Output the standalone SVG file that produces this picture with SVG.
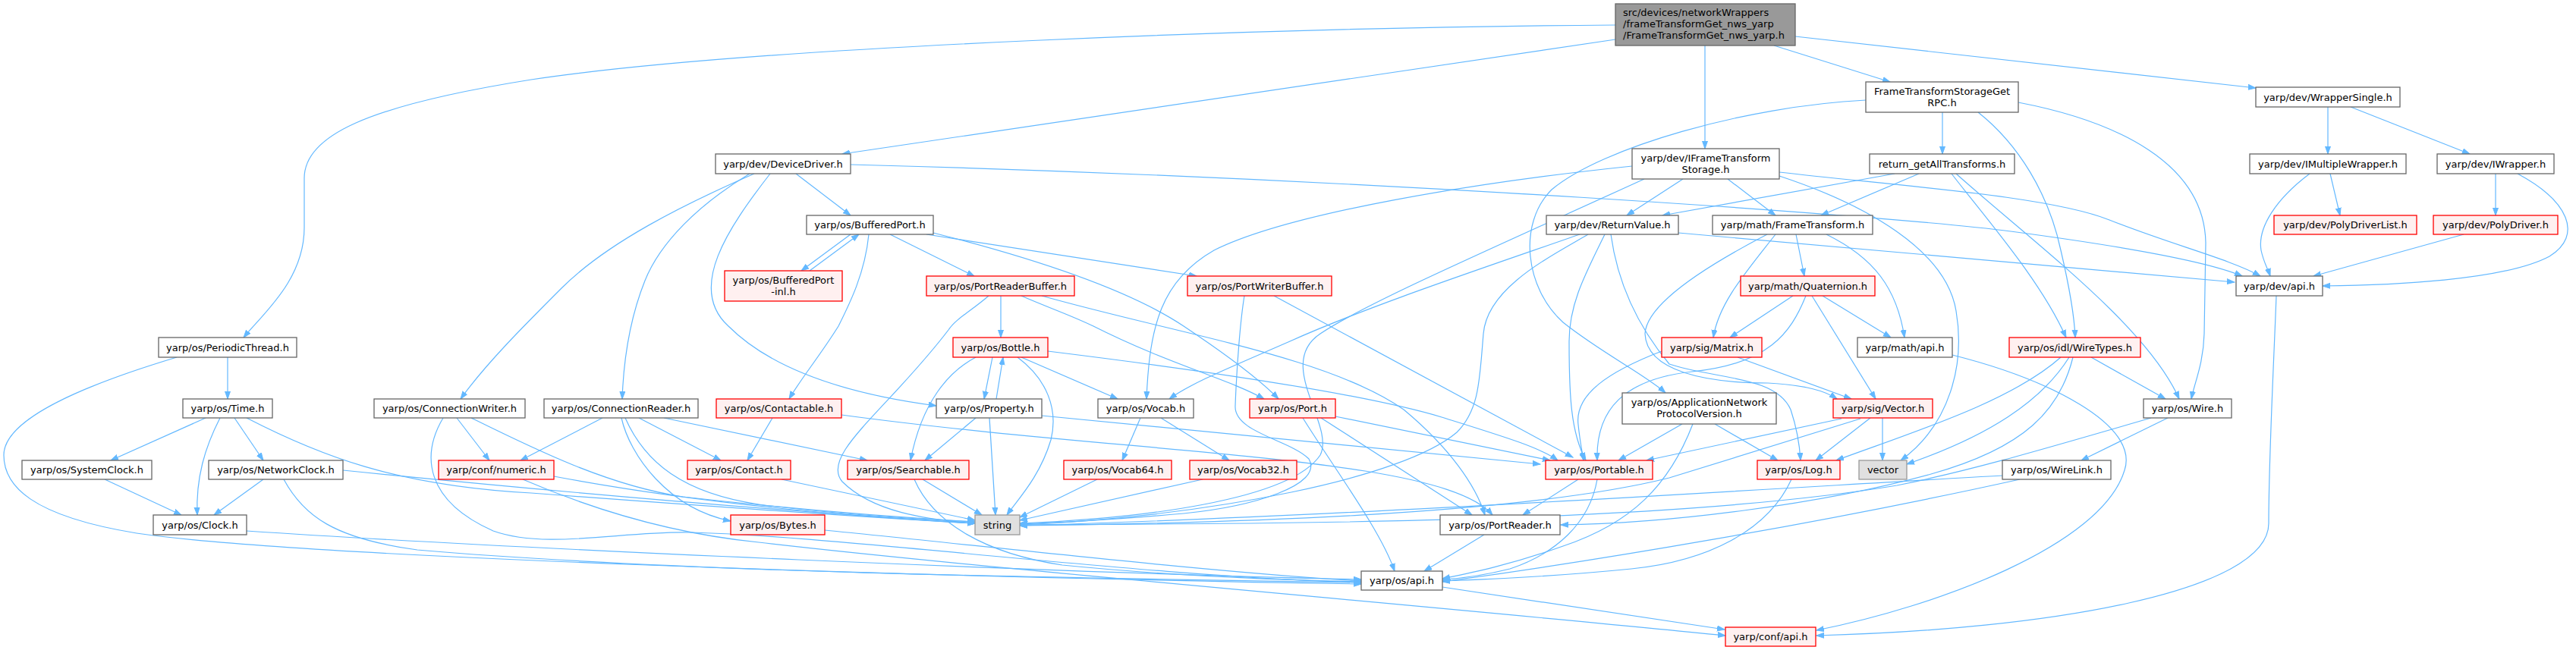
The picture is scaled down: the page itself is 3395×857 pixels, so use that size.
<svg xmlns="http://www.w3.org/2000/svg" width="3395" height="857" viewBox="0 0 3395 857">
<style>
text{font-family:"DejaVu Sans","Liberation Sans",sans-serif;font-size:13px;fill:#000;text-anchor:middle}
.n rect{fill:#fff;stroke:#666;stroke-width:1.3}
.r rect{fill:#fff0f0;stroke:#ff0000;stroke-width:1.3}
.x rect{fill:#e0e0e0;stroke:#999;stroke-width:1.3}
.root rect{fill:#999;stroke:#666;stroke-width:1.3}
.root text{text-anchor:start}
#edges path{fill:none;stroke:#63b8ff;stroke-width:1.2;marker-end:url(#a)}
</style>
<defs>
<marker id="a" markerWidth="11" markerHeight="9" refX="10" refY="4" orient="auto" markerUnits="userSpaceOnUse">
<path d="M0,0.5 L10,4 L0,7.5 z" fill="#63b8ff" stroke="#63b8ff" stroke-width="1"/>
</marker>
</defs>
<rect width="3395" height="857" fill="#fff"/>
<g id="edges">
<path d="M2129,33 C1700,36 1000,60 700,105 C480,140 401,180 401,235 L401,300 C401,370 345,415 321,445"/>
<path d="M2129,52 L1110,203"/>
<path d="M2247,60 L2247,196"/>
<path d="M2338,60 L2491,108"/>
<path d="M2366,48 L2973,116"/>
<path d="M2560,148 L2560,203"/>
<path d="M2459,132 C2300,140 2110,195 2045,250 C2000,295 2010,380 2060,425 C2110,465 2170,495 2195,518"/>
<path d="M2607,148 C2660,190 2700,255 2716,330 C2730,390 2734,420 2735,445"/>
<path d="M2660,135 C2790,160 2905,215 2907,320 L2905,440 C2904,480 2892,505 2888,526"/>
<path d="M2497,229 L2191,284"/>
<path d="M2529,229 L2400,284"/>
<path d="M2572,229 C2615,285 2690,370 2723,445"/>
<path d="M2578,229 C2680,320 2830,430 2872,526"/>
<path d="M3068,141 L3068,203"/>
<path d="M3098,141 L3255,203"/>
<path d="M3071,229 L3084,284"/>
<path d="M3044,229 C3000,262 2975,300 2980,330 C2983,345 2989,355 2992,364"/>
<path d="M3289,229 L3289,284"/>
<path d="M3318,229 C3385,265 3405,310 3360,338 C3300,370 3150,376 3061,377"/>
<path d="M3247,309 L3049,364"/>
<path d="M2345,227 C2500,245 2700,258 2780,290 C2860,322 2940,342 2979,364"/>
<path d="M2345,232 C2460,270 2565,330 2578,410 C2590,480 2570,560 2505,607"/>
<path d="M2218,236 L2144,284"/>
<path d="M2277,236 L2340,284"/>
<path d="M2151,219 C1950,240 1700,280 1600,330 C1530,370 1515,430 1511,526"/>
<path d="M2167,236 C1950,335 1800,400 1740,440 C1680,480 1760,560 1740,600 C1700,660 1500,684 1344,690"/>
<path d="M1121,217 C1800,235 2500,285 2650,305 C2800,325 2910,345 2955,364"/>
<path d="M1049,229 L1121,284"/>
<path d="M1015,229 C960,300 905,380 960,430 C1020,490 1120,520 1234,535"/>
<path d="M994,229 C900,270 800,320 740,380 C690,430 640,480 607,526"/>
<path d="M988,229 C920,270 870,320 850,370 C830,420 822,470 820,526"/>
<path d="M1121,309 L1056,357"/>
<path d="M1067,357 L1132,309"/>
<path d="M1145,309 C1140,360 1120,400 1105,430 C1080,470 1055,500 1040,526"/>
<path d="M1173,309 L1284,364"/>
<path d="M1221,309 L1577,364"/>
<path d="M1230,307 C1400,350 1500,390 1560,430 C1620,470 1660,500 1685,526"/>
<path d="M1319,390 L1319,445"/>
<path d="M1303,390 C1280,410 1260,420 1250,435 C1170,540 1080,600 1110,635 C1150,675 1220,685 1285,690"/>
<path d="M1346,390 C1380,405 1410,415 1441,430 C1540,480 1620,500 1666,526"/>
<path d="M1373,390 C1550,440 1750,470 1850,540 C1910,590 1945,640 1957,679"/>
<path d="M1679,390 L2073,603"/>
<path d="M1640,390 C1635,420 1630,480 1628,535 C1626,570 1700,580 1725,605 C1745,640 1650,668 1560,677 C1470,685 1400,689 1344,691"/>
<path d="M2212,307 L2945,372"/>
<path d="M2082,309 C1950,355 1800,405 1700,450 C1620,485 1570,505 1541,526"/>
<path d="M2093,309 C2040,340 1960,380 1955,440 C1950,500 1950,540 1920,570 C1850,630 1600,680 1344,692"/>
<path d="M2115,309 C2090,360 2068,400 2068,450 C2068,520 2070,570 2090,607"/>
<path d="M2123,309 C2130,360 2150,420 2200,480 C2260,500 2340,495 2360,540 C2370,570 2372,590 2373,607"/>
<path d="M2367,309 L2378,364"/>
<path d="M2340,309 C2300,360 2265,400 2258,445"/>
<path d="M2407,309 C2470,340 2500,380 2510,445"/>
<path d="M2329,309 C2250,350 2170,400 2168,440 C2170,490 2250,505 2330,505 C2380,508 2405,515 2421,526"/>
<path d="M2363,390 L2280,445"/>
<path d="M2388,390 L2472,526"/>
<path d="M2402,390 L2492,445"/>
<path d="M2380,390 C2360,440 2330,480 2230,490 C2140,500 2103,540 2105,607"/>
<path d="M2290,471 L2440,526"/>
<path d="M2190,463 C2120,490 2075,520 2080,560 C2082,580 2085,595 2087,607"/>
<path d="M2481,551 L2481,607"/>
<path d="M2465,551 L2393,607"/>
<path d="M2427,552 L2170,607"/>
<path d="M2452,552 L2200,630 C2000,680 1600,690 1344,693"/>
<path d="M2217,559 L2133,607"/>
<path d="M2260,559 L2343,607"/>
<path d="M2231,559 C2200,640 2150,690 2060,720 C1990,745 1940,755 1901,763"/>
<path d="M2361,632 C2330,700 2250,740 2150,750 C2050,760 1960,764 1901,766"/>
<path d="M2080,632 L2007,679"/>
<path d="M2105,632 C2095,690 2050,730 1990,750 C1950,760 1920,763 1901,764"/>
<path d="M1956,705 L1877,753"/>
<path d="M1901,774 L2273,830"/>
<path d="M1760,549 L2043,607"/>
<path d="M1741,551 L1940,679"/>
<path d="M1717,551 C1760,620 1820,700 1838,753"/>
<path d="M1308,471 L1297,526"/>
<path d="M1313,526 L1322,471"/>
<path d="M1286,471 C1250,490 1215,530 1200,607"/>
<path d="M1346,471 L1473,526"/>
<path d="M1341,471 C1380,500 1395,540 1385,580 C1370,630 1340,660 1327,679"/>
<path d="M1381,463 C1600,490 1800,520 1900,550 C1980,575 2030,590 2053,607"/>
<path d="M1286,551 L1219,607"/>
<path d="M1304,551 L1312,679"/>
<path d="M1373,548 L2030,612"/>
<path d="M1018,551 L985,607"/>
<path d="M1109,547 C1500,600 1900,600 1967,679"/>
<path d="M1503,551 L1479,607"/>
<path d="M1530,551 L1620,607"/>
<path d="M1446,632 L1344,682"/>
<path d="M1585,632 L1344,686"/>
<path d="M1216,632 L1294,679"/>
<path d="M1205,632 C1230,690 1300,730 1400,745 C1550,760 1700,765 1794,767"/>
<path d="M1030,632 L1285,686"/>
<path d="M794,551 L686,607"/>
<path d="M842,551 L950,607"/>
<path d="M875,551 L1143,607"/>
<path d="M819,551 C830,600 880,670 963,687"/>
<path d="M824,551 C850,610 900,650 1000,665 C1100,678 1200,684 1285,688"/>
<path d="M602,551 L645,607"/>
<path d="M621,551 C700,590 800,640 900,655 C1050,672 1180,682 1285,688"/>
<path d="M584,551 C555,600 560,660 650,700 C720,725 820,700 908,702 C1100,706 1500,760 1794,768"/>
<path d="M689,632 C800,680 900,705 1000,715 C1300,750 1900,800 2274,838"/>
<path d="M730,628 C900,660 1100,680 1285,690"/>
<path d="M1087,699 C1300,720 1600,755 1794,766"/>
<path d="M300,471 L300,526"/>
<path d="M233,471 C120,505 5,550 5,600 C5,640 40,680 180,703 C400,735 1200,760 1794,770"/>
<path d="M271,551 L146,607"/>
<path d="M309,551 L347,607"/>
<path d="M290,551 C270,590 258,630 260,679"/>
<path d="M325,551 C420,600 520,640 700,650 C900,665 1100,680 1285,690"/>
<path d="M138,632 L239,679"/>
<path d="M347,632 L282,679"/>
<path d="M374,632 C400,680 440,710 550,725 C900,755 1400,762 1794,768"/>
<path d="M452,620 C700,645 1000,672 1285,690"/>
<path d="M325,700 C700,725 1400,755 1794,764"/>
<path d="M2756,471 L2854,526"/>
<path d="M2716,471 C2650,530 2520,570 2420,607"/>
<path d="M2727,471 C2690,530 2620,575 2513,612"/>
<path d="M2732,471 C2715,540 2670,590 2545,625 C2400,665 2200,690 2057,692"/>
<path d="M2857,551 L2743,607"/>
<path d="M2835,551 C2700,590 2600,620 2500,640 C2200,690 1700,690 1344,692"/>
<path d="M2640,627 C2400,640 1800,680 1344,693"/>
<path d="M2662,632 C2400,690 2100,740 1901,767"/>
<path d="M3000,390 C2998,450 2990,600 2990,690 C2990,780 2700,830 2394,838"/>
<path d="M2573,468 C2700,500 2820,560 2800,620 C2770,720 2550,800 2394,831"/>
</g>
<g id="n_root" class="root"><rect x="2129" y="5" width="237" height="55"/><text x="2139" y="21">src/devices/networkWrappers</text><text x="2139" y="36">/frameTransformGet_nws_yarp</text><text x="2139" y="51">/FrameTransformGet_nws_yarp.h</text></g>
<g id="n_rpc" class="n"><rect x="2459" y="108" width="201" height="40"/><text x="2559.5" y="125">FrameTransformStorageGet</text><text x="2559.5" y="140">RPC.h</text></g>
<g id="n_ws" class="n"><rect x="2973" y="115" width="190" height="26"/><text x="3068" y="132.5">yarp/dev/WrapperSingle.h</text></g>
<g id="n_dd" class="n"><rect x="943" y="203" width="178" height="26"/><text x="1032" y="220.5">yarp/dev/DeviceDriver.h</text></g>
<g id="n_ifts" class="n"><rect x="2151" y="196" width="194" height="40"/><text x="2248" y="213">yarp/dev/IFrameTransform</text><text x="2248" y="228">Storage.h</text></g>
<g id="n_rgat" class="n"><rect x="2464" y="203" width="191" height="26"/><text x="2559.5" y="220.5">return_getAllTransforms.h</text></g>
<g id="n_imw" class="n"><rect x="2965" y="203" width="206" height="26"/><text x="3068" y="220.5">yarp/dev/IMultipleWrapper.h</text></g>
<g id="n_iw" class="n"><rect x="3212" y="203" width="154" height="26"/><text x="3289" y="220.5">yarp/dev/IWrapper.h</text></g>
<g id="n_bp" class="n"><rect x="1063" y="284" width="167" height="25"/><text x="1146.5" y="301">yarp/os/BufferedPort.h</text></g>
<g id="n_rv" class="n"><rect x="2038" y="284" width="174" height="25"/><text x="2125" y="301">yarp/dev/ReturnValue.h</text></g>
<g id="n_ft" class="n"><rect x="2257" y="284" width="211" height="25"/><text x="2362.5" y="301">yarp/math/FrameTransform.h</text></g>
<g id="n_pdl" class="r"><rect x="2997" y="284" width="188" height="25"/><text x="3091" y="301">yarp/dev/PolyDriverList.h</text></g>
<g id="n_pd" class="r"><rect x="3207" y="284" width="164" height="25"/><text x="3289" y="301">yarp/dev/PolyDriver.h</text></g>
<g id="n_bpi" class="r"><rect x="955" y="357" width="155" height="40"/><text x="1032.5" y="374">yarp/os/BufferedPort</text><text x="1032.5" y="389">-inl.h</text></g>
<g id="n_prb" class="r"><rect x="1221" y="364" width="195" height="26"/><text x="1318.5" y="381.5">yarp/os/PortReaderBuffer.h</text></g>
<g id="n_pwb" class="r"><rect x="1565" y="364" width="190" height="26"/><text x="1660" y="381.5">yarp/os/PortWriterBuffer.h</text></g>
<g id="n_q" class="r"><rect x="2294" y="364" width="177" height="26"/><text x="2382.5" y="381.5">yarp/math/Quaternion.h</text></g>
<g id="n_da" class="n"><rect x="2947" y="364" width="114" height="26"/><text x="3004" y="381.5">yarp/dev/api.h</text></g>
<g id="n_pt" class="n"><rect x="209" y="445" width="182" height="26"/><text x="300" y="462.5">yarp/os/PeriodicThread.h</text></g>
<g id="n_b" class="r"><rect x="1256" y="445" width="125" height="26"/><text x="1318.5" y="462.5">yarp/os/Bottle.h</text></g>
<g id="n_m" class="r"><rect x="2190" y="445" width="132" height="26"/><text x="2256" y="462.5">yarp/sig/Matrix.h</text></g>
<g id="n_ma" class="n"><rect x="2448" y="445" width="125" height="26"/><text x="2510.5" y="462.5">yarp/math/api.h</text></g>
<g id="n_wt" class="r"><rect x="2648" y="445" width="173" height="26"/><text x="2734.5" y="462.5">yarp/os/idl/WireTypes.h</text></g>
<g id="n_t" class="n"><rect x="241" y="526" width="118" height="25"/><text x="300" y="543">yarp/os/Time.h</text></g>
<g id="n_cw" class="n"><rect x="493" y="526" width="199" height="25"/><text x="592.5" y="543">yarp/os/ConnectionWriter.h</text></g>
<g id="n_cr" class="n"><rect x="717" y="526" width="203" height="25"/><text x="818.5" y="543">yarp/os/ConnectionReader.h</text></g>
<g id="n_ct" class="r"><rect x="944" y="526" width="165" height="25"/><text x="1026.5" y="543">yarp/os/Contactable.h</text></g>
<g id="n_pr" class="n"><rect x="1234" y="526" width="139" height="25"/><text x="1303.5" y="543">yarp/os/Property.h</text></g>
<g id="n_v" class="n"><rect x="1447" y="526" width="126" height="25"/><text x="1510" y="543">yarp/os/Vocab.h</text></g>
<g id="n_p" class="r"><rect x="1647" y="526" width="113" height="25"/><text x="1703.5" y="543">yarp/os/Port.h</text></g>
<g id="n_anpv" class="n"><rect x="2138" y="518" width="203" height="41"/><text x="2239.5" y="535">yarp/os/ApplicationNetwork</text><text x="2239.5" y="550">ProtocolVersion.h</text></g>
<g id="n_sv" class="r"><rect x="2416" y="526" width="131" height="25"/><text x="2481.5" y="543">yarp/sig/Vector.h</text></g>
<g id="n_w" class="n"><rect x="2825" y="526" width="116" height="25"/><text x="2883" y="543">yarp/os/Wire.h</text></g>
<g id="n_sc" class="n"><rect x="29" y="607" width="171" height="25"/><text x="114.5" y="624">yarp/os/SystemClock.h</text></g>
<g id="n_nc" class="n"><rect x="275" y="607" width="177" height="25"/><text x="363.5" y="624">yarp/os/NetworkClock.h</text></g>
<g id="n_num" class="r"><rect x="578" y="607" width="152" height="25"/><text x="654" y="624">yarp/conf/numeric.h</text></g>
<g id="n_c" class="r"><rect x="906" y="607" width="136" height="25"/><text x="974" y="624">yarp/os/Contact.h</text></g>
<g id="n_s" class="r"><rect x="1117" y="607" width="160" height="25"/><text x="1197" y="624">yarp/os/Searchable.h</text></g>
<g id="n_v64" class="r"><rect x="1402" y="607" width="142" height="25"/><text x="1473" y="624">yarp/os/Vocab64.h</text></g>
<g id="n_v32" class="r"><rect x="1568" y="607" width="141" height="25"/><text x="1638.5" y="624">yarp/os/Vocab32.h</text></g>
<g id="n_po" class="r"><rect x="2037" y="607" width="141" height="25"/><text x="2107.5" y="624">yarp/os/Portable.h</text></g>
<g id="n_l" class="r"><rect x="2316" y="607" width="109" height="25"/><text x="2370.5" y="624">yarp/os/Log.h</text></g>
<g id="n_vec" class="x"><rect x="2450" y="607" width="63" height="25"/><text x="2481.5" y="624">vector</text></g>
<g id="n_wl" class="n"><rect x="2639" y="607" width="143" height="25"/><text x="2710.5" y="624">yarp/os/WireLink.h</text></g>
<g id="n_cl" class="n"><rect x="202" y="679" width="123" height="26"/><text x="263.5" y="696.5">yarp/os/Clock.h</text></g>
<g id="n_by" class="r"><rect x="963" y="679" width="124" height="26"/><text x="1025" y="696.5">yarp/os/Bytes.h</text></g>
<g id="n_str" class="x"><rect x="1285" y="679" width="59" height="26"/><text x="1314.5" y="696.5">string</text></g>
<g id="n_prd" class="n"><rect x="1898" y="679" width="158" height="26"/><text x="1977" y="696.5">yarp/os/PortReader.h</text></g>
<g id="n_oa" class="n"><rect x="1794" y="753" width="107" height="25"/><text x="1847.5" y="770">yarp/os/api.h</text></g>
<g id="n_ca" class="r"><rect x="2274" y="827" width="119" height="25"/><text x="2333.5" y="844">yarp/conf/api.h</text></g>
</svg>
